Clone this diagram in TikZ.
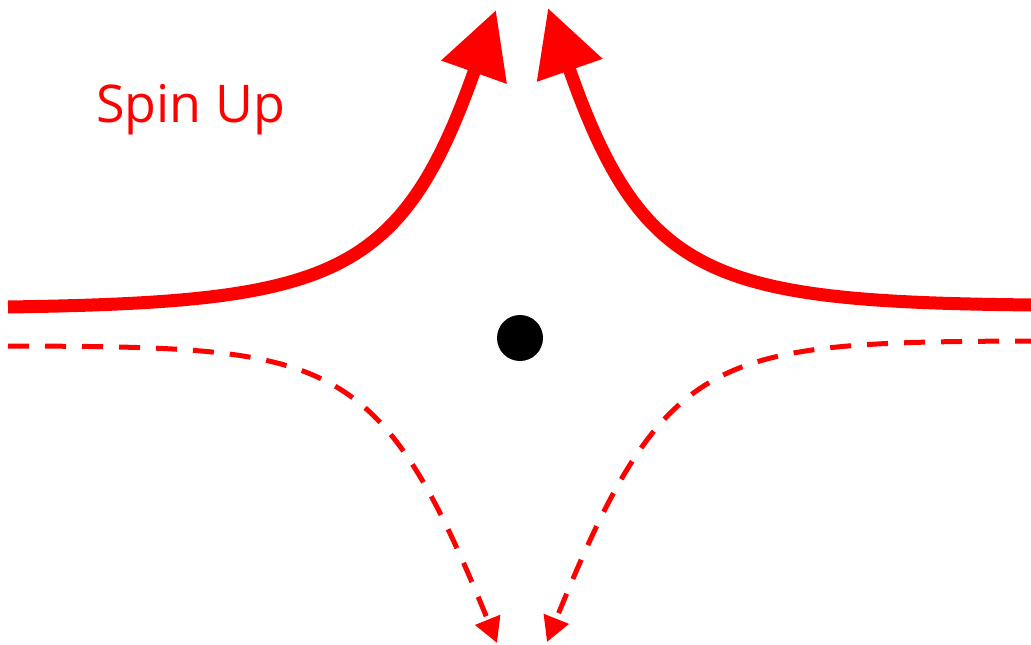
\documentclass[tikz,border=0pt]{standalone}
\usepackage{fontspec}
\setmainfont{Open Sans}
\usetikzlibrary{arrows.meta,bending}
\definecolor{spinred}{RGB}{255,0,0}
\tikzset{
  bigpath/.style={draw=spinred, line width=13pt, line cap=butt,
    -{Triangle[length=66pt,width=66pt]}},
  smallpath/.style={draw=spinred, line width=5pt, dash pattern=on 21pt off 16pt,
    -{Triangle[length=25pt,width=26pt]}},
  dotnode/.style={circle, fill=black, inner sep=0pt, minimum size=46pt},
  labelnode/.style={text=spinred, font=\fontsize{52}{60}\selectfont, inner sep=0pt, anchor=base west}
}
\begin{document}
\begin{tikzpicture}[x=1pt,y=-1pt]
\useasboundingbox (0,0) rectangle (1031,645);
% coordinates
\coordinate (LS) at (8,307);
\coordinate (LB) at (474,72);
\coordinate (LT) at (496,10);
\coordinate (RS) at (1036,305);
\coordinate (RB) at (570,71);
\coordinate (RT) at (548,8);
\coordinate (DLS) at (8,346);
\coordinate (DLT) at (497,643);
\coordinate (DRS) at (1036,341);
\coordinate (DRT) at (547,642);
% solid curves
\draw[bigpath] (LS) .. controls (330,302) and (400,280) .. (LB) -- (LT);
\draw[bigpath] (RS) .. controls (714,302) and (644,280) .. (RB) -- (RT);
% dashed curves
\draw[smallpath] (DLS) .. controls (340,347) and (380,350) .. (DLT);
\draw[smallpath] (DRS) .. controls (704,342) and (664,348) .. (DRT);
% dot
\node[dotnode] (dot) at (520,338) {};
% label
\node[labelnode] (spin) at (96,122) {Spin Up};
\end{tikzpicture}
\end{document}
